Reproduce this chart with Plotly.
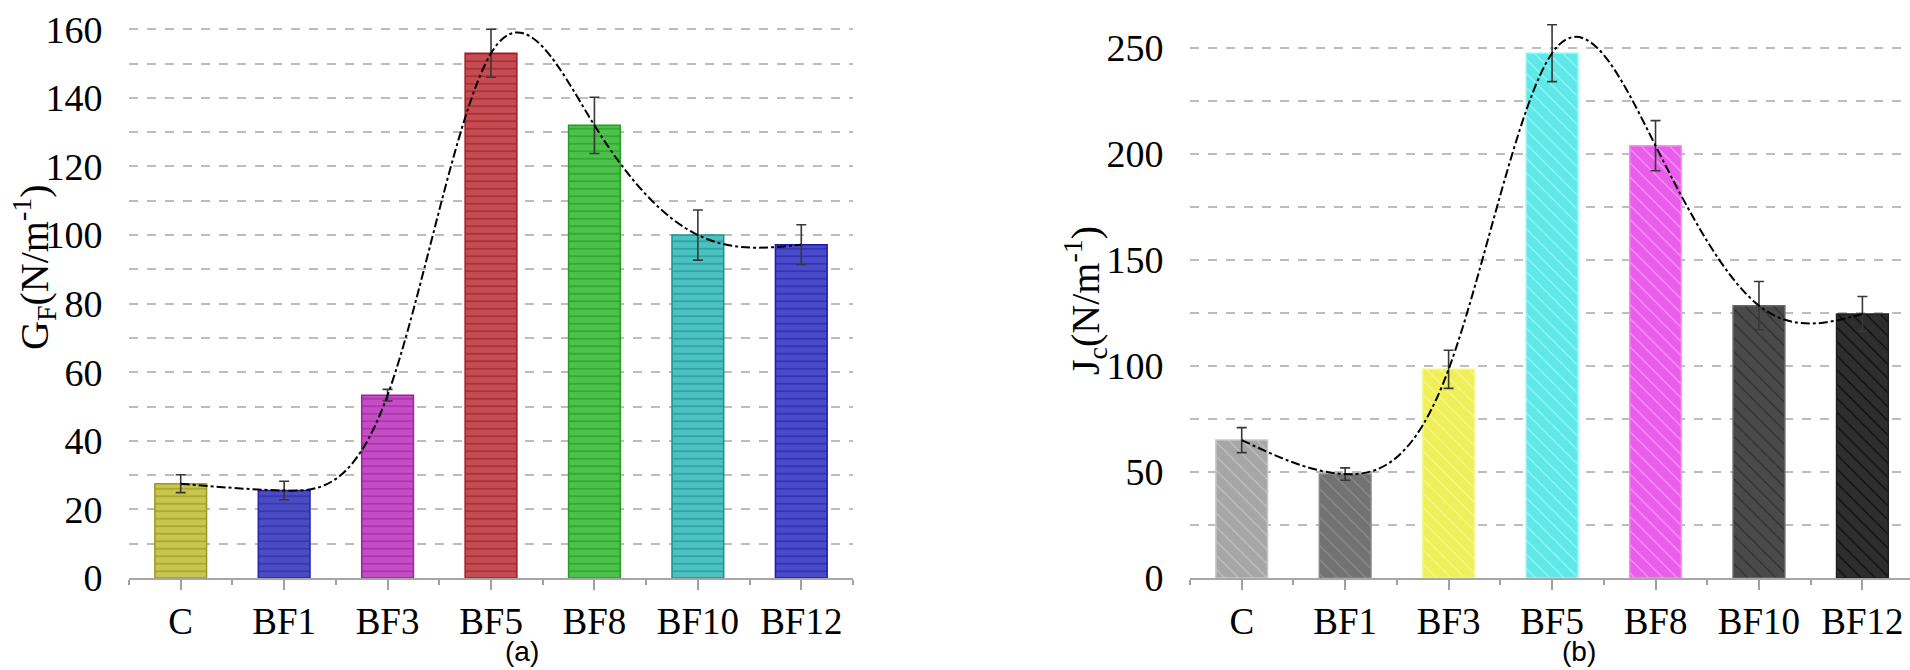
import plotly.graph_objects as go
import numpy as np

# ---------------- data ----------------
categories = ["C", "BF1", "BF3", "BF5", "BF8", "BF10", "BF12"]

gf_values = [27.5, 25.5, 53.3, 153.0, 132.0, 100.0, 97.2]
gf_errors = [2.6, 2.7, 1.7, 7.0, 8.2, 7.3, 5.8]

jc_values = [65.0, 49.0, 98.4, 247.4, 203.8, 128.4, 124.5]
jc_errors = [5.9, 2.9, 9.0, 13.4, 11.8, 11.4, 8.2]

gf_colors = ["#c9c64e", "#4b4bc4", "#c64cc6", "#c44c52", "#4cc24c", "#4ac2c2", "#4a4acc"]
gf_edges = ["#9c9a22", "#2424b0", "#a020a0", "#a01c22", "#22a022", "#1f9090", "#1a1ab4"]
gf_lines = ["#a4a230", "#3434aa", "#a432a4", "#a42c32", "#2ea42e", "#2c9c9c", "#2e2eaa"]

jc_colors = ["#a6a6a6", "#727272", "#efef5a", "#5ee8e8", "#ea5cea", "#4a4a4a", "#2e2e2e"]
jc_edges = ["#c8c8c8", "#8a8a8a", "#f6f690", "#90f6f6", "#f690f6", "#666666", "#202020"]
jc_hatch = ["#c2c2c2", "#8e8e8e", "#f8f890", "#9af8f8", "#f89af8", "#2e2e2e", "#0c0c0c"]

W, H = 1910, 670
x_pos = list(range(len(categories)))
serif = "Liberation Serif, Times New Roman, serif"


def natural_spline_path(xs, ys):
    """Natural cubic spline through the points, expressed as cubic Bezier segments."""
    xs = np.asarray(xs, float)
    ys = np.asarray(ys, float)
    n = len(xs)
    h = np.diff(xs)
    A = np.zeros((n, n))
    rhs = np.zeros(n)
    A[0, 0] = A[-1, -1] = 1.0
    for i in range(1, n - 1):
        A[i, i - 1] = h[i - 1]
        A[i, i] = 2 * (h[i - 1] + h[i])
        A[i, i + 1] = h[i]
        rhs[i] = 6 * ((ys[i + 1] - ys[i]) / h[i] - (ys[i] - ys[i - 1]) / h[i - 1])
    M = np.linalg.solve(A, rhs)
    path = f"M {xs[0]},{ys[0]}"
    for i in range(n - 1):
        s = (ys[i + 1] - ys[i]) / h[i]
        d0 = s - h[i] * (2 * M[i] + M[i + 1]) / 6
        d1 = s + h[i] * (M[i] + 2 * M[i + 1]) / 6
        c1x, c1y = xs[i] + h[i] / 3, ys[i] + d0 * h[i] / 3
        c2x, c2y = xs[i + 1] - h[i] / 3, ys[i + 1] - d1 * h[i] / 3
        path += f" C {c1x},{c1y} {c2x},{c2y} {xs[i + 1]},{ys[i + 1]}"
    return path


fig = go.Figure()

# ---------------- panel (a) ----------------
for i, cat in enumerate(categories):
    fig.add_trace(go.Bar(
        x=[x_pos[i]], y=[gf_values[i]], width=0.5, name=cat,
        marker=dict(color=gf_colors[i], line=dict(color=gf_edges[i], width=1.5),
                    pattern=dict(shape="-", fillmode="replace", bgcolor=gf_colors[i],
                                 fgcolor=gf_lines[i], size=7.5, solidity=0.2)),
        error_y=dict(type="data", array=[gf_errors[i]], visible=True, color="#383838",
                     thickness=1.6, width=5),
        xaxis="x", yaxis="y", showlegend=False))

# ---------------- panel (b) ----------------
for i, cat in enumerate(categories):
    fig.add_trace(go.Bar(
        x=[x_pos[i]], y=[jc_values[i]], width=0.5, name=cat,
        marker=dict(color=jc_colors[i], line=dict(color=jc_edges[i], width=1.5),
                    pattern=dict(shape="\\", fillmode="replace", bgcolor=jc_colors[i],
                                 fgcolor=jc_hatch[i], size=10, solidity=0.12)),
        error_y=dict(type="data", array=[jc_errors[i]], visible=True, color="#383838",
                     thickness=1.6, width=5),
        xaxis="x2", yaxis="y2", showlegend=False))

top, bottom = 20, 92
plot_h = H - top - bottom


def xaxis_cfg(domain, rng, anchor):
    return dict(
        domain=domain, range=rng, anchor=anchor,
        tickmode="array", tickvals=x_pos, ticktext=categories,
        ticks="outside", ticklen=10, tickwidth=2, tickcolor="#a0a0a0",
        minor=dict(tickmode="linear", tick0=-0.5, dtick=1, ticks="outside",
                   ticklen=5, tickwidth=2, tickcolor="#a0a0a0", showgrid=False),
        showline=True, linecolor="#a6a6a6", linewidth=2,
        showgrid=False, zeroline=False,
        tickfont=dict(family=serif, size=37, color="black"),
        fixedrange=True)


def yaxis_cfg(rng, major, minor_step, anchor):
    return dict(
        range=rng, anchor=anchor, domain=[0, 1],
        tickmode="linear", tick0=0, dtick=major,
        ticks="outside", ticklen=18, tickcolor="rgba(0,0,0,0)",
        showline=False, zeroline=False,
        showgrid=True, gridcolor="#bdbdbd", gridwidth=1.5, griddash="dash",
        minor=dict(tickmode="linear", tick0=0, dtick=minor_step, showgrid=True,
                   gridcolor="#bdbdbd", gridwidth=1.5, griddash="dash", ticks=""),
        tickfont=dict(family=serif, size=38, color="black"),
        fixedrange=True)


left_dom = [129 / W, 853 / W]
right_dom = [1190 / W, 1.0]

fig.update_layout(
    width=W, height=H,
    margin=dict(l=0, r=0, t=top, b=bottom),
    paper_bgcolor="white", plot_bgcolor="white",
    barmode="overlay",
    xaxis=xaxis_cfg(left_dom, [-0.5, 6.5], "y"),
    yaxis=yaxis_cfg([0, plot_h / ((578 - 29.3) / 160)], 20, 10, "x"),
    xaxis2=xaxis_cfg(right_dom, [-0.5, 6.46], "y2"),
    yaxis2=yaxis_cfg([0, plot_h / ((578 - 47.7) / 250)], 50, 25, "x2"),
)

# smooth (natural cubic spline) trend lines through the bar tops
curve_style = dict(color="black", width=2, dash="dashdot")
fig.add_shape(type="path", path=natural_spline_path(x_pos, gf_values),
              xref="x", yref="y", line=curve_style, layer="above")
fig.add_shape(type="path", path=natural_spline_path(x_pos, jc_values),
              xref="x2", yref="y2", line=curve_style, layer="above")


def py(ypix):
    return (578 - ypix) / plot_h


annotations = [
    dict(text="G<sub>F</sub>(N/m<sup>-1</sup>)", x=34 / W, y=py(267), xref="paper", yref="paper",
         textangle=-90, showarrow=False, xanchor="center", yanchor="middle",
         font=dict(family=serif, size=40, color="black")),
    dict(text="J<sub>c</sub>(N/m<sup>-1</sup>)", x=1085 / W, y=py(301), xref="paper", yref="paper",
         textangle=-90, showarrow=False, xanchor="center", yanchor="middle",
         font=dict(family=serif, size=40, color="black")),
    dict(text="(a)", x=522 / W, y=py(651), xref="paper", yref="paper",
         showarrow=False, xanchor="center", yanchor="middle",
         font=dict(family="Liberation Sans, Arial, sans-serif", size=28, color="black")),
    dict(text="(b)", x=1579 / W, y=py(651), xref="paper", yref="paper",
         showarrow=False, xanchor="center", yanchor="middle",
         font=dict(family="Liberation Sans, Arial, sans-serif", size=28, color="black")),
]
fig.update_layout(annotations=annotations)

fig.write_html("out.html")
